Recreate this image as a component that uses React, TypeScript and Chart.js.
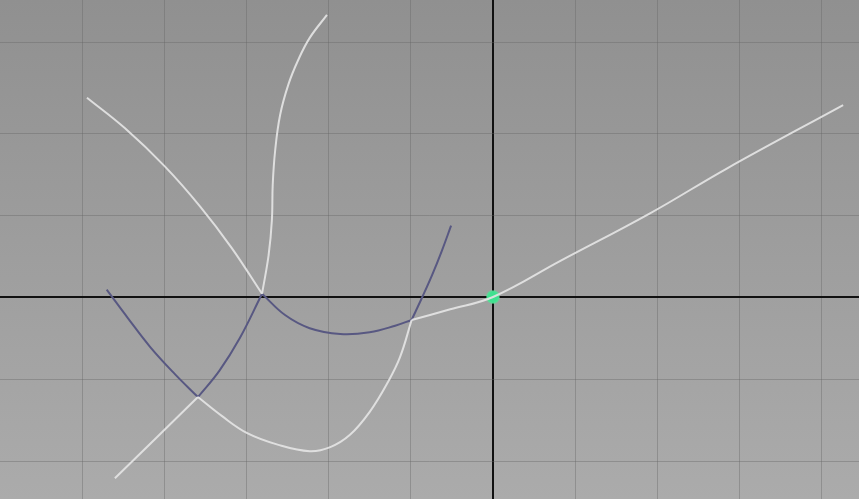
import React, { useEffect, useRef } from "react";
import { Chart, registerables } from "chart.js";

Chart.register(...registerables);

// Grid tick positions (world units)
const xTicks = [-5, -4, -3, -2, -1, 0, 1, 2, 3, 4];
const yTicks = [-2, -1, 0, 1, 2, 3.1];

// White curve from upper-left down to the junction
const w1X = [-4.94, -4.48, -3.99, -3.56, -3.18, -2.81];
const w1Y = [2.43, 2.06, 1.59, 1.1, 0.6, 0.04];

// White S-shaped curve from the top
const w2X = [-2.02, -2.23, -2.37, -2.49, -2.59, -2.65, -2.68, -2.69, -2.73, -2.81];
const w2Y = [3.44, 3.16, 2.89, 2.59, 2.22, 1.79, 1.37, 0.94, 0.51, 0.04];

// Blue curve segments
const b1X = [-4.7, -4.44, -4.17, -3.87, -3.59];
const b1Y = [0.09, -0.26, -0.61, -0.94, -1.22];
const b2X = [-3.59, -3.33, -3.08, -2.81];
const b2Y = [-1.22, -0.9, -0.5, 0.04];
const b3X = [-2.81, -2.53, -2.23, -1.86, -1.5, -1.19, -0.99];
const b3Y = [0.04, -0.22, -0.38, -0.45, -0.43, -0.35, -0.28];
const b4X = [-0.99, -0.86, -0.74, -0.62, -0.51];
const b4Y = [-0.28, 0.0, 0.27, 0.57, 0.87];

// White lower curve segments
const w3X = [-4.6, -3.59];
const w3Y = [-2.21, -1.22];
const w4X = [-3.59, -3.3, -2.99, -2.62, -2.23, -1.98, -1.74, -1.5, -1.28, -1.13, -0.99];
const w4Y = [-1.22, -1.45, -1.66, -1.8, -1.88, -1.83, -1.68, -1.4, -1.04, -0.73, -0.28];
const w5X = [-0.99, -0.52, 0, 0.82, 1.91, 2.85, 4.26];
const w5Y = [-0.28, -0.15, 0, 0.44, 1.02, 1.57, 2.34];

// Pivot point
const pivotX = [0];
const pivotY = [0];

const WHITE = "rgba(228,228,228,0.92)";
const BLUE = "rgb(88,88,130)";

function pts(xs: number[], ys: number[]) {
  return xs.map((x, i) => ({ x, y: ys[i] }));
}

export default function App() {
  const ref = useRef<HTMLCanvasElement | null>(null);

  useEffect(() => {
    if (!ref.current) return;
    const curve = (xs: number[], ys: number[], color: string) => ({
      type: "line" as const,
      data: pts(xs, ys),
      borderColor: color,
      borderWidth: 2,
      pointRadius: 0,
      showLine: true,
      tension: 0.4,
      fill: false,
    });

    const bgPlugin = {
      id: "bg",
      beforeDraw(chart: any) {
        const { ctx, width, height } = chart;
        const g = ctx.createLinearGradient(0, 0, 0, height);
        g.addColorStop(0, "#909090");
        g.addColorStop(1, "#ababab");
        ctx.save();
        ctx.fillStyle = g;
        ctx.fillRect(0, 0, width, height);
        ctx.restore();
      },
    };

    const gridColor = (c: any) =>
      c.tick && c.tick.value === 0 ? "#111111" : "rgba(100,100,100,0.38)";
    const gridWidth = (c: any) => (c.tick && c.tick.value === 0 ? 2 : 1);

    const chart = new Chart(ref.current, {
      type: "scatter",
      data: {
        datasets: [
          curve(w1X, w1Y, WHITE),
          curve(w2X, w2Y, WHITE),
          curve(w3X, w3Y, WHITE),
          curve(w4X, w4Y, WHITE),
          curve(w5X, w5Y, WHITE),
          curve(b1X, b1Y, BLUE),
          curve(b2X, b2Y, BLUE),
          curve(b3X, b3Y, BLUE),
          curve(b4X, b4Y, BLUE),
          {
            type: "scatter" as const,
            data: pts(pivotX, pivotY),
            pointRadius: 6,
            pointBackgroundColor: "#3fe190",
            pointBorderColor: "rgba(80,230,150,0.6)",
            pointBorderWidth: 2,
          } as any,
        ],
      },
      options: {
        responsive: false,
        animation: false,
        layout: { padding: 0, autoPadding: false },
        plugins: {
          legend: { display: false },
          tooltip: { enabled: false },
          title: { display: false },
        },
        scales: {
          x: {
            type: "linear",
            min: -5.998,
            max: 4.453,
            border: { display: false },
            ticks: { display: false },
            grid: { color: gridColor, lineWidth: gridWidth, drawTicks: false },
            afterBuildTicks: (s: any) => {
              s.ticks = xTicks.map((v) => ({ value: v }));
            },
          },
          y: {
            type: "linear",
            min: -2.463,
            max: 3.622,
            border: { display: false },
            ticks: { display: false },
            grid: { color: gridColor, lineWidth: gridWidth, drawTicks: false },
            afterBuildTicks: (s: any) => {
              s.ticks = yTicks.map((v) => ({ value: v }));
            },
          },
        },
      } as any,
      plugins: [bgPlugin],
    });
    return () => chart.destroy();
  }, []);

  return (
    <div style={{ position: "fixed", left: 0, top: 0, width: 859, height: 499 }}>
      <canvas ref={ref} width={859} height={499} style={{ display: "block" }} />
    </div>
  );
}
